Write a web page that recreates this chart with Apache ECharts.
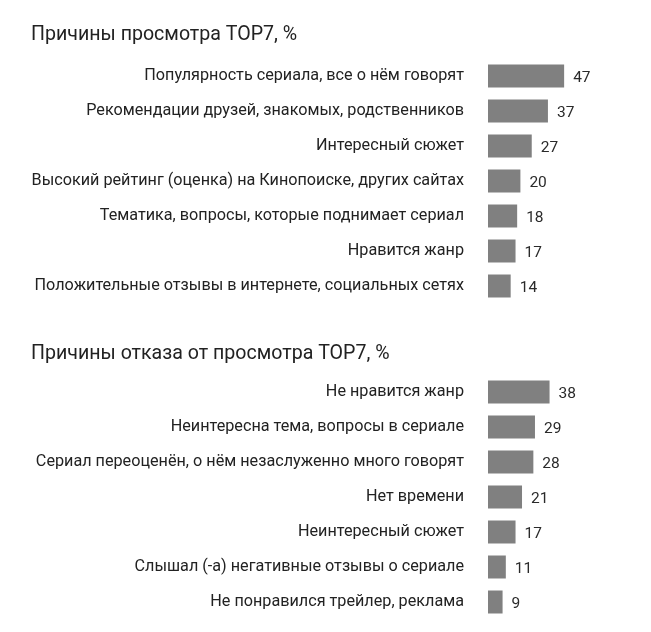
<!DOCTYPE html>
<html><head><meta charset="utf-8">
<script src="https://cdn.jsdelivr.net/npm/echarts@6/dist/echarts.min.js"></script>
<style>html,body{margin:0;padding:0;background:#fff}#c{width:651px;height:632px}</style>
</head><body><div id="c"></div>
<script>
const title1 = "Причины просмотра TOP7, %";
const cats1 = ["Популярность сериала, все о нём говорят","Рекомендации друзей, знакомых, родственников","Интересный сюжет","Высокий рейтинг (оценка) на Кинопоиске, других сайтах","Тематика, вопросы, которые поднимает сериал","Нравится жанр","Положительные отзывы в интернете, социальных сетях"];
const vals1 = [47,37,27,20,18,17,14];
const title2 = "Причины отказа от просмотра TOP7, %";
const cats2 = ["Не нравится жанр","Неинтересна тема, вопросы в сериале","Сериал переоценён, о нём незаслуженно много говорят","Нет времени","Неинтересный сюжет","Слышал (-а) негативные отзывы о сериале","Не понравился трейлер, реклама"];
const vals2 = [38,29,28,21,17,11,9];

const FONT = "Roboto";
const TXT = "#222";
const chart = echarts.init(document.getElementById('c'), null, {renderer:'canvas'});
function grid(top){ return {left:488, top:top, width:162, height:245}; }
function xa(i){ return {type:'value', gridIndex:i, min:0, max:100, show:false}; }
function ya(i, cats){ return {type:'category', gridIndex:i, data:cats, inverse:true,
  axisLine:{show:false}, axisTick:{show:false},
  axisLabel:{margin:24, color:TXT, fontFamily:FONT, fontSize:16.2, padding:[0,0,5,0]}}; }
function ser(i, vals){ return {type:'bar', xAxisIndex:i, yAxisIndex:i, data:vals, barWidth:23,
  itemStyle:{color:'#808080'}, silent:true,
  label:{show:true, position:'right', distance:9, offset:[0,2], color:'#2a2a2a', fontFamily:FONT, fontSize:15.5}}; }
chart.setOption({
  animation:false,
  title:[
    {text:title1, left:26, top:20, textStyle:{color:TXT, fontFamily:FONT, fontSize:19.6, fontWeight:'normal'}},
    {text:title2, left:26, top:339, textStyle:{color:TXT, fontFamily:FONT, fontSize:19.6, fontWeight:'normal'}}
  ],
  grid:[grid(58.5), grid(374.5)],
  xAxis:[xa(0), xa(1)],
  yAxis:[ya(0,cats1), ya(1,cats2)],
  series:[ser(0,vals1), ser(1,vals2)]
});
</script></body></html>
